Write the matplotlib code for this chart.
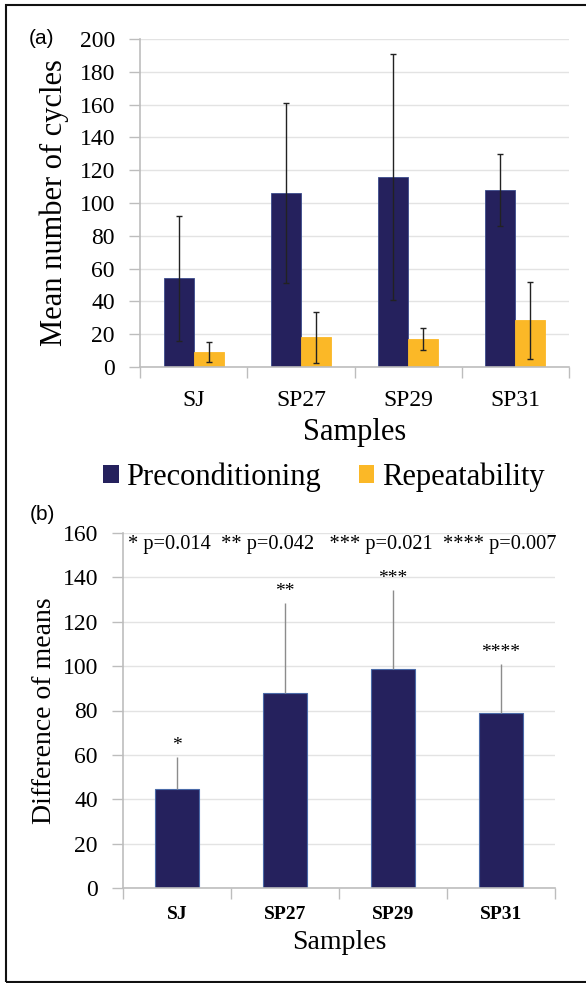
#!/usr/bin/env python3

import matplotlib.pyplot as plt
import numpy as np
from matplotlib.patches import Patch, Rectangle

plt.rcParams["font.family"] = ["Liberation Serif", "DejaVu Serif"]

samples = ["SJ", "SP27", "SP29", "SP31"]

# (a) mean number of cycles with standard deviations
precond_mean = [54, 106, 116, 108]
precond_sd = [38, 55, 75, 22]
repeat_mean = [9, 18, 17, 28.5]
repeat_sd = [6, 15.5, 6.5, 23.5]

# (b) difference of means with significance marks
diff_mean = [44.5, 88, 98.5, 79]
diff_err = [14.5, 40.5, 36, 22]
stars = ["*", "**", "***", "****"]
p_values = ["0.014", "0.042", "0.021", "0.007"]

navy = "#25215D"
orange = "#FBB827"
grid_col = "#E3E3E3"
spine_col = "#BDBDBD"

W, H = 586, 983
fig = plt.figure(figsize=(W / 100, H / 100), dpi=100)


def px_axes(left, top, right, bottom):
    return fig.add_axes([left / W, 1 - bottom / H, (right - left) / W, (bottom - top) / H])


def style_axes(ax, ymax, step):
    x = np.arange(len(samples))
    ax.set_xlim(-0.5, len(samples) - 0.5)
    ax.set_ylim(0, ymax)
    ax.set_yticks(np.arange(0, ymax + 1, step))
    ax.set_xticks(x)
    ax.set_xticks(np.arange(-0.5, len(samples)), minor=True)
    ax.tick_params(axis="x", which="major", length=0)
    ax.tick_params(axis="x", which="minor", length=8, width=1, color=spine_col)
    ax.tick_params(axis="y", length=8, width=1, color=spine_col, labelsize=17, pad=10)
    ax.grid(axis="y", color=grid_col, linewidth=1)
    ax.set_axisbelow(True)
    for side in ["top", "right"]:
        ax.spines[side].set_visible(False)
    for side in ["left", "bottom"]:
        ax.spines[side].set_color(spine_col)
        ax.spines[side].set_linewidth(1.2)
    return x


# ---- panel (a) ----
ax1 = px_axes(140, 39, 569, 367)
x = style_axes(ax1, 200, 20)
w = 0.28
ax1.bar(x - w / 2, precond_mean, w, color=navy, edgecolor="#3B4C8C", linewidth=0.6,
        yerr=precond_sd, error_kw=dict(ecolor="#222222", elinewidth=1, capsize=2.5, capthick=1))
ax1.bar(x + w / 2, repeat_mean, w, color=orange, edgecolor=orange, linewidth=0.6,
        yerr=repeat_sd, error_kw=dict(ecolor="#222222", elinewidth=1, capsize=2.5, capthick=1))
ax1.set_xticklabels(samples, fontsize=17)
ax1.tick_params(axis="x", which="major", pad=16.5)
ax1.set_xlabel("Samples", fontsize=22, labelpad=5)
ax1.set_ylabel("Mean number of cycles", fontsize=22)
ax1.yaxis.set_label_coords(-0.165, 0.5)

handles = [Patch(facecolor=navy, label="Preconditioning"),
           Patch(facecolor=orange, label="Repeatability")]
fig.legend(handles=handles, loc="center", bbox_to_anchor=(324 / W, 1 - 477 / H),
           ncol=2, frameon=False, fontsize=22, handlelength=0.5, handleheight=0.5,
           handletextpad=0.25, columnspacing=1.25, borderaxespad=0)

fig.text(42 / W, 1 - 39 / H, "(a)", family="Liberation Sans", fontsize=15,
         ha="center", va="center")

# ---- panel (b) ----
ax2 = px_axes(123, 533, 555, 888)
x = style_axes(ax2, 160, 20)
w2 = 0.405
ax2.bar(x, diff_mean, w2, color=navy, edgecolor="#4A6AA8", linewidth=0.8,
        yerr=[np.zeros(len(diff_err)), diff_err],
        error_kw=dict(ecolor="#8C8C8C", elinewidth=1, capsize=0))
ax2.set_xticklabels(samples, fontsize=14, fontweight="bold")
ax2.tick_params(axis="x", which="major", pad=13)
ax2.set_xlabel("Samples", fontsize=20, labelpad=5)
ax2.set_ylabel("Difference of means", fontsize=20)
ax2.yaxis.set_label_coords(-0.152, 0.5)

for xi, m, e, s in zip(x, diff_mean, diff_err, stars):
    ax2.annotate(s, (xi, m + e), xytext=(0, 2), textcoords="offset points",
                 ha="center", va="bottom", fontsize=14)

# significance legend across the top of panel (b)
gaps = ["  ", "   ", "  ", ""]
p_line = "".join(f"{s} p={p}{g}" for s, p, g in zip(stars, p_values, gaps))
fig.text(128 / W, 1 - 545 / H, p_line, ha="left", va="center", fontsize=14.7)

fig.text(42 / W, 1 - 515 / H, "(b)", family="Liberation Sans", fontsize=15,
         ha="center", va="center")

# outer frame
fig.patches.append(Rectangle((6 / W, 1 - 982 / H), 1, (982 - 5) / H,
                             transform=fig.transFigure, fill=False,
                             edgecolor="#111111", linewidth=1.5))

fig.savefig("out.png", dpi=100)
